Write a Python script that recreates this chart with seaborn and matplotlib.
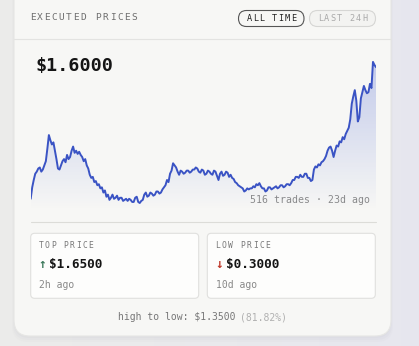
import matplotlib
matplotlib.use("Agg")
import matplotlib.pyplot as plt
from matplotlib.patches import FancyBboxPatch
import numpy as np
import seaborn as sns

# price history (evenly spaced trades, oldest -> newest)
prices = [0.34, 0.45, 0.52, 0.58, 0.60, 0.63, 0.64, 0.60, 0.62, 0.66,
          0.70, 0.82, 0.95, 0.90, 0.86, 0.88, 0.80, 0.72, 0.63, 0.62,
          0.66, 0.70, 0.72, 0.69, 0.76, 0.72, 0.74, 0.80, 0.84, 0.78,
          0.80, 0.77, 0.79, 0.76, 0.74, 0.70, 0.72, 0.66, 0.63, 0.57,
          0.54, 0.55, 0.50, 0.51, 0.47, 0.48, 0.44, 0.45, 0.40, 0.42,
          0.36, 0.38, 0.33, 0.35, 0.38, 0.34, 0.35, 0.37, 0.33, 0.35,
          0.35, 0.32, 0.33, 0.34, 0.32, 0.34, 0.33, 0.31, 0.31, 0.35,
          0.36, 0.31, 0.30, 0.32, 0.33, 0.38, 0.40, 0.36, 0.37, 0.40,
          0.39, 0.37, 0.38, 0.41, 0.41, 0.39, 0.40, 0.43, 0.45, 0.47,
          0.52, 0.50, 0.58, 0.61, 0.68, 0.66, 0.64, 0.60, 0.57, 0.61,
          0.60, 0.58, 0.59, 0.61, 0.61, 0.59, 0.60, 0.62, 0.62, 0.64,
          0.63, 0.60, 0.59, 0.62, 0.61, 0.57, 0.58, 0.61, 0.60, 0.58,
          0.57, 0.61, 0.60, 0.56, 0.52, 0.58, 0.60, 0.56, 0.57, 0.60,
          0.59, 0.55, 0.57, 0.54, 0.53, 0.50, 0.49, 0.47, 0.46, 0.45,
          0.44, 0.41, 0.42, 0.44, 0.43, 0.44, 0.44, 0.46, 0.45, 0.48,
          0.47, 0.49, 0.46, 0.44, 0.44, 0.41, 0.42, 0.45, 0.45, 0.43,
          0.44, 0.45, 0.46, 0.44, 0.45, 0.47, 0.47, 0.45, 0.46, 0.48,
          0.48, 0.47, 0.49, 0.52, 0.52, 0.55, 0.55, 0.54, 0.57, 0.55,
          0.55, 0.58, 0.58, 0.54, 0.54, 0.51, 0.52, 0.62, 0.65, 0.64,
          0.67, 0.66, 0.69, 0.70, 0.72, 0.75, 0.80, 0.83, 0.84, 0.80,
          0.74, 0.80, 0.85, 0.84, 0.89, 0.88, 0.93, 0.91, 0.96, 0.99,
          1.02, 1.10, 1.25, 1.32, 1.38, 1.28, 1.08, 1.12, 1.30, 1.36,
          1.42, 1.38, 1.35, 1.36, 1.44, 1.40, 1.65, 1.62, 1.60]
trade_idx = list(range(len(prices)))

title = "EXECUTED PRICES"
range_tabs = ["ALL TIME", "LAST 24H"]
current_price = "$1.6000"
trades_note = "516 trades \u00b7 23d ago"
top_label, top_value, top_when = "TOP PRICE", "$1.6500", "2h ago"
low_label, low_value, low_when = "LOW PRICE", "$0.3000", "10d ago"
spread_text = "high to low: $1.3500"
spread_pct = "(81.82%)"

W, H = 419, 346
sns.set_theme(style="white")
plt.rcParams['font.family'] = ['DejaVu Sans Mono', 'DejaVu Sans']

fig = plt.figure(figsize=(W / 100, H / 100), dpi=100)
bg = fig.add_axes([0, 0, 1, 1])
bg.set_xlim(0, W)
bg.set_ylim(H, 0)
bg.axis("off")

# page background with slight lavender tint on the right
grad = np.linspace(0, 1, 256)
c0 = np.array([0.925, 0.925, 0.918])
c1 = np.array([0.905, 0.905, 0.935])
img = c0[None, None, :] * (1 - grad[None, :, None]) + c1[None, None, :] * grad[None, :, None]
bg.imshow(np.repeat(img, 2, axis=0), extent=[0, W, H, 0], aspect="auto", zorder=0)

# card + soft shadow
for k, a in enumerate([0.05, 0.04, 0.03]):
    bg.add_patch(FancyBboxPatch((14 - k, -20 + 2 + k), 377 + 2 * k, 356 + k,
                                boxstyle="round,pad=0,rounding_size=16",
                                fc="#9a9aa8", ec="none", alpha=a, zorder=1))
bg.add_patch(FancyBboxPatch((14, -20), 377, 356, boxstyle="round,pad=0,rounding_size=16",
                            fc="#f7f7f5", ec="#e6e6e4", lw=0.8, zorder=2))
bg.plot([14, 391], [39, 39], color="#e3e3e1", lw=0.8, zorder=3)


def spaced(x0, y, s, dx, **kw):
    for k, ch in enumerate(s):
        bg.text(x0 + k * dx, y, ch, ha="center", va="center", zorder=5, **kw)


spaced(32.5, 18, title, 7.29, fontsize=6.8, color="#6e6e6e")

# pills
bg.add_patch(FancyBboxPatch((238.5, 10.5), 65.5, 16, boxstyle="round,pad=0,rounding_size=8",
                            fc="#f7f7f5", ec="#555555", lw=0.8, zorder=4))
bg.add_patch(FancyBboxPatch((309.5, 10.5), 66, 16, boxstyle="round,pad=0,rounding_size=8",
                            fc="#f3f3f1", ec="#d6d6d4", lw=0.8, zorder=4))
spaced(249.5, 18.3, range_tabs[0], 6.3, fontsize=6.1, color="#222222")
spaced(320.5, 18.3, range_tabs[1], 6.3, fontsize=6.1, color="#aaaaaa")

bg.text(35, 66, current_price, ha="left", va="center", fontsize=13.2,
        fontweight="bold", color="#151515", zorder=5)

# chart
x_left, x_right = 30.7, 376.0
y_top, y_bot = 55, 210
ax = fig.add_axes([x_left / W, 1 - y_bot / H, (x_right - x_left) / W, (y_bot - y_top) / H])
ax.patch.set_alpha(0)
ymin, ymax = 0.233, 1.716
n = len(prices) - 1

poly = ax.fill_between(trade_idx, prices, ymin, color="none", lw=0)
fade = np.zeros((200, 2, 4))
fade[:, :, :3] = np.array([0.36, 0.45, 0.84])
fade[:, :, 3] = np.linspace(0.34, 0.0, 200)[:, None]
im = ax.imshow(fade, extent=[0, n, ymin, 1.65], origin="upper", aspect="auto", zorder=1)
im.set_clip_path(poly.get_paths()[0], transform=ax.transData)

sns.lineplot(x=trade_idx, y=prices, ax=ax, color="#3a53c4", linewidth=1.4, zorder=3)
ax.set_xlim(0, n)
ax.set_ylim(ymin, ymax)
ax.axis("off")

bg.text(370, 200, trades_note, ha="right", va="center", fontsize=7.1,
        color="#8a8a8a", zorder=6)

bg.plot([30.7, 376], [222.3, 222.3], color="#dcdcd8", lw=0.8, zorder=3)

# stat boxes
for bx in (30.7, 207.3):
    bg.add_patch(FancyBboxPatch((bx, 233.3), 168, 65, boxstyle="round,pad=0,rounding_size=4",
                                fc="#fdfdfc", ec="#e0e0de", lw=0.8, zorder=4))

spaced(41, 246, top_label, 6.25, fontsize=5.8, color="#777777")
bg.text(38, 265, "\u2191", ha="left", va="center", fontsize=9, fontweight="bold",
        color="#3d7a5c", zorder=5)
bg.text(48.5, 264.8, top_value, ha="left", va="center", fontsize=9.2,
        fontweight="bold", color="#151515", zorder=5)
bg.text(38.5, 284.5, top_when, ha="left", va="center", fontsize=7, color="#888888", zorder=5)

spaced(218, 246, low_label, 6.25, fontsize=5.8, color="#777777")
bg.text(215, 265, "\u2193", ha="left", va="center", fontsize=9, fontweight="bold",
        color="#c0392b", zorder=5)
bg.text(225.5, 264.8, low_value, ha="left", va="center", fontsize=9.2,
        fontweight="bold", color="#151515", zorder=5)
bg.text(215.5, 284.5, low_when, ha="left", va="center", fontsize=7, color="#888888", zorder=5)

bg.text(235.5, 317, spread_text, ha="right", va="center", fontsize=7, color="#777777", zorder=5)
bg.text(240, 317, spread_pct, ha="left", va="center", fontsize=7, color="#b0b0b0", zorder=5)

fig.savefig("out.png", dpi=100)
